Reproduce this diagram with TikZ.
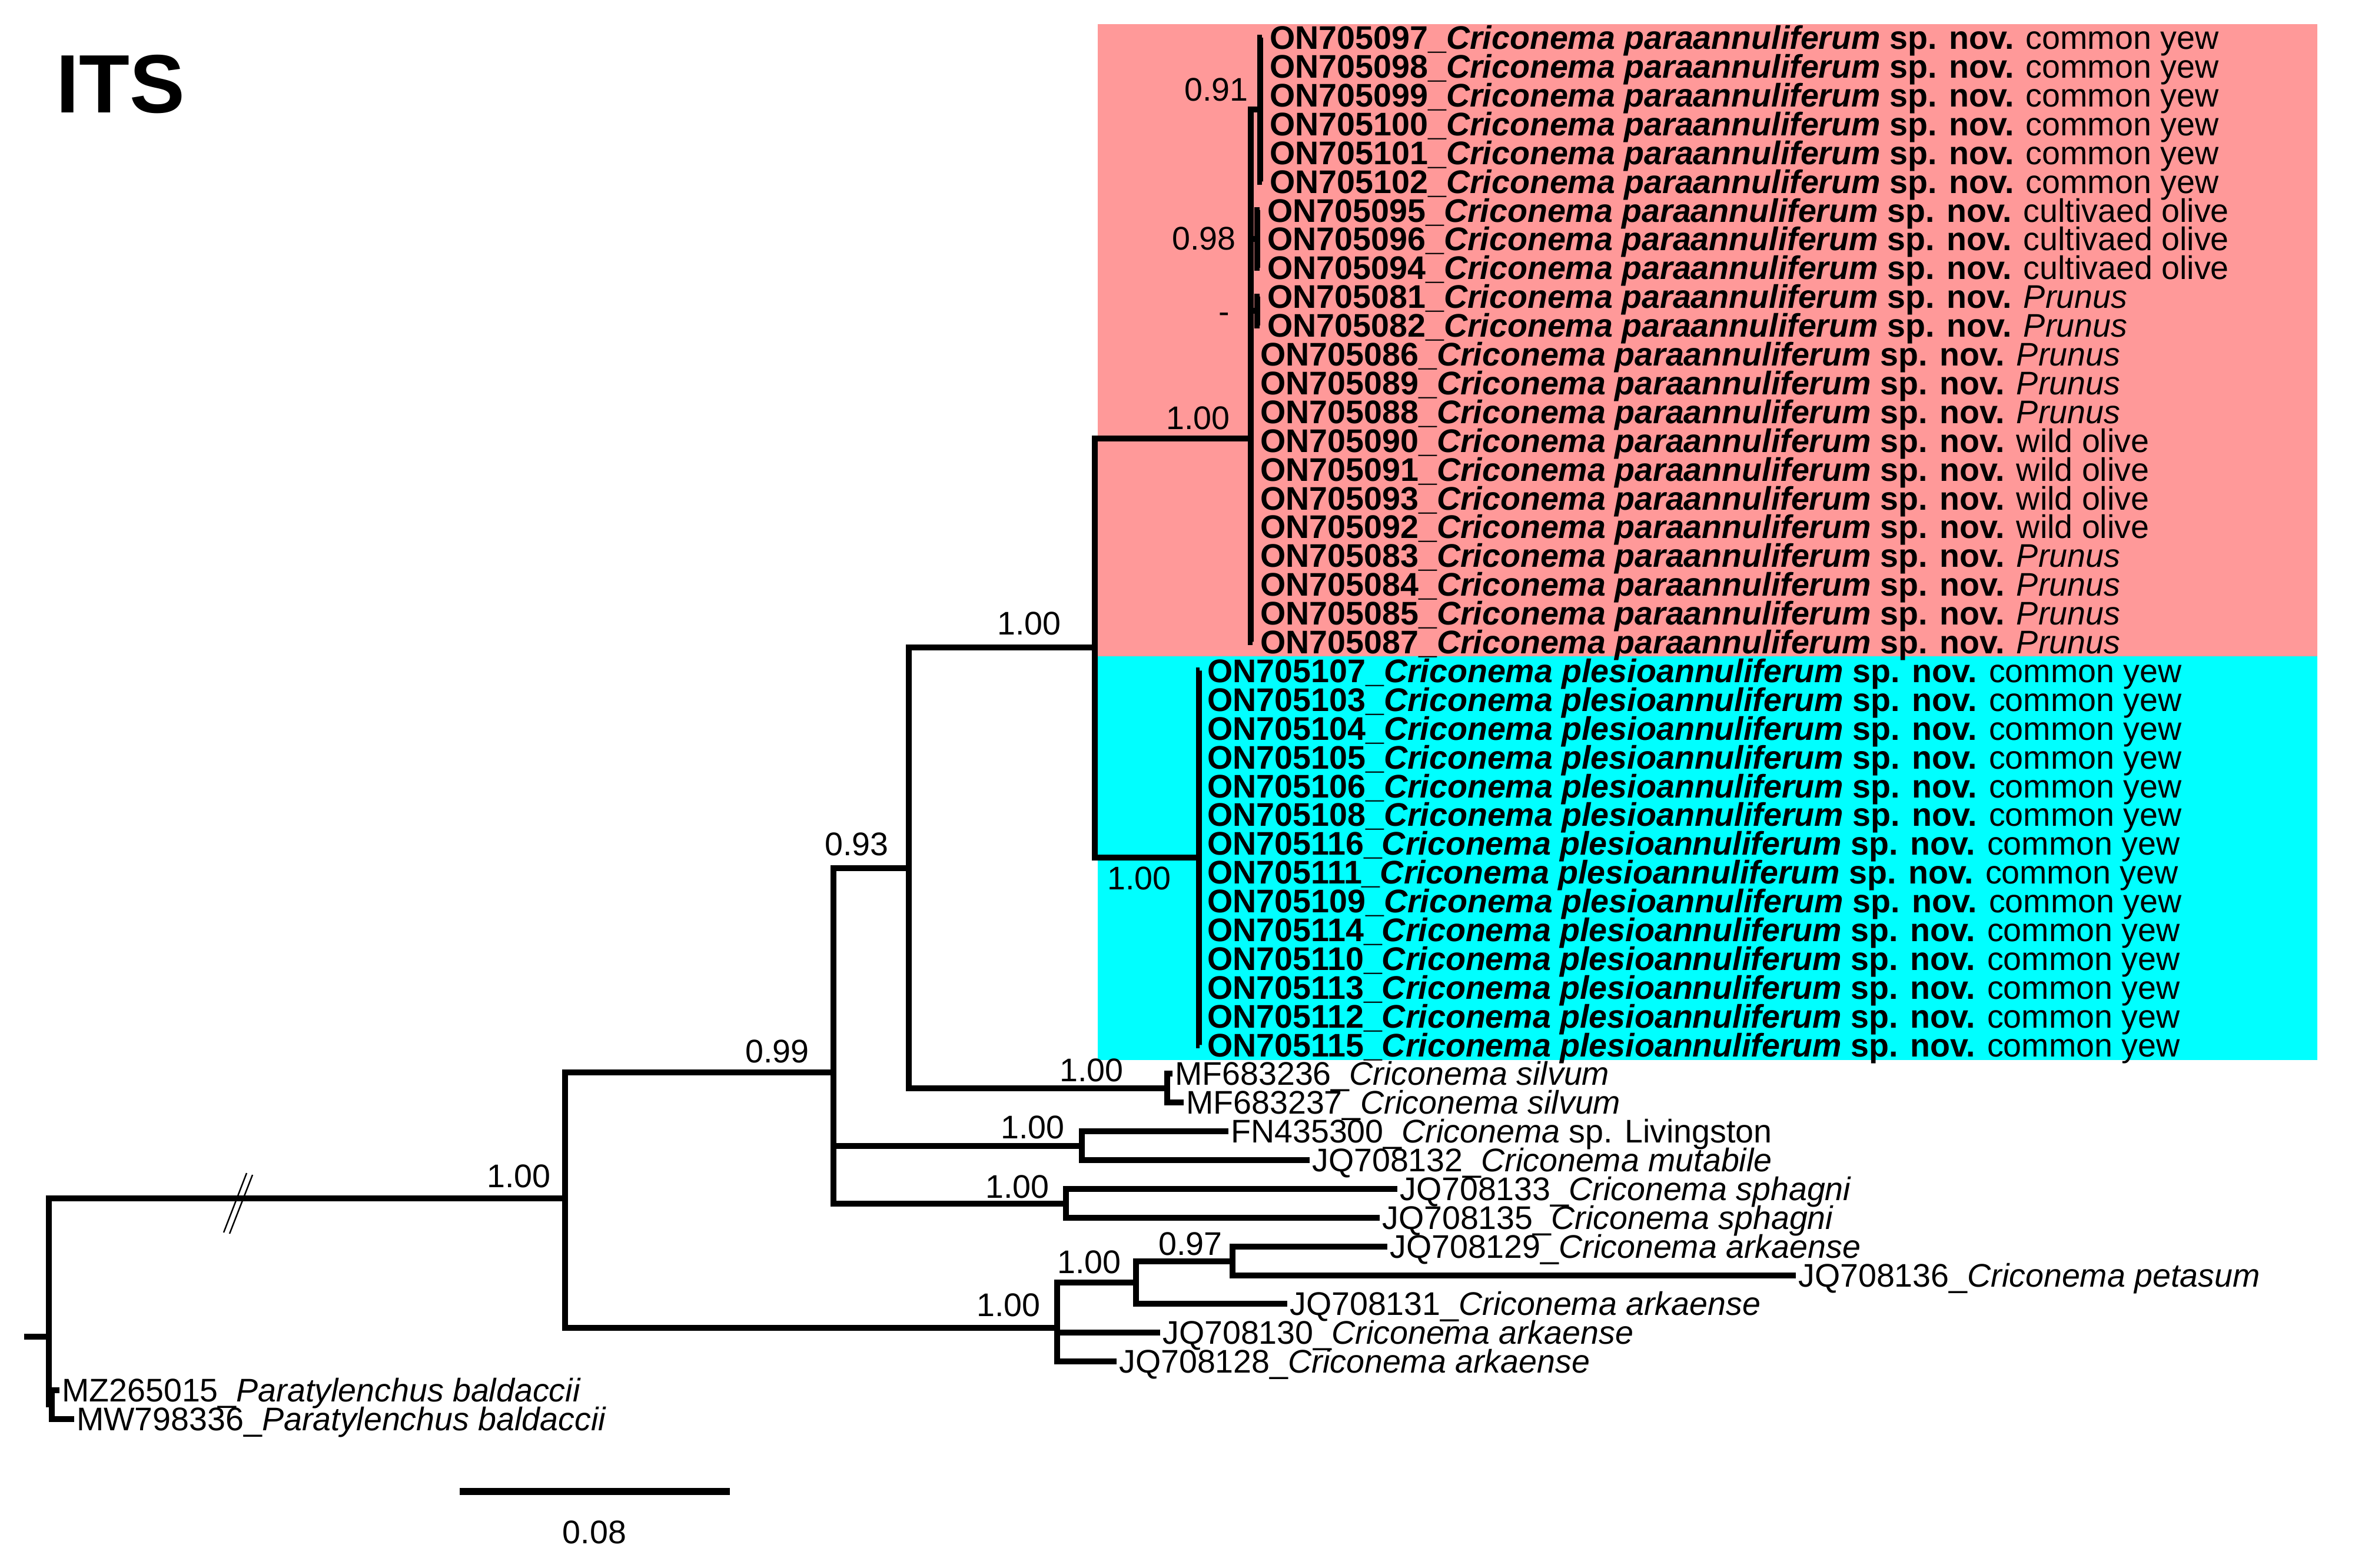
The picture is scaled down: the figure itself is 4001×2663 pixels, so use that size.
\documentclass[tikz,border=0pt]{standalone}
\usepackage{fontspec}
\setmainfont{Liberation Sans}
\usepackage{xcolor}
\usepackage{tikz}
\definecolor{cladepink}{RGB}{255,153,153}
\definecolor{cladecyan}{RGB}{0,255,255}
\newcommand{\newsp}[3]{\textbf{#1\_\textit{Criconema #2} sp. nov.} #3}
\newcommand{\prunus}{\textit{Prunus}}
\tikzset{
  branch/.style={line width=3pt},
  tip/.style={anchor=west, inner xsep=1pt, inner ysep=0pt,
    text height=11.3pt, text depth=0pt, font=\fontsize{15.8}{16}\selectfont},
  ztip/.style={tip, inner xsep=3.6pt},
  supp/.style={anchor=east, inner sep=0pt,
    text height=11.3pt, text depth=0pt, font=\fontsize{15.8}{16}\selectfont},
  clade pink/.style={fill=cladepink, draw=none},
  clade cyan/.style={fill=cladecyan, draw=none},
  breakmark/.style={line width=0.7pt}
}

\begin{document}
\begin{tikzpicture}[x=0.01cm,y=-0.01cm]
  \useasboundingbox (0,0) rectangle (4001,2663);

  % clade boxes
  \fill[clade pink] (1865,41) rectangle (3937,1115);
  \fill[clade cyan] (1865,1115) rectangle (3937,1801);

  \node[font=\fontsize{40}{40}\selectfont\bfseries, anchor=base west, inner sep=0pt] (title) at (95,191) {ITS};

  % internal nodes
  \coordinate (stub) at (41,2271);
  \coordinate (R) at (83,2271);
  \coordinate (O) at (88,2386);
  \coordinate (A) at (960,2036);
  \coordinate (B) at (1416,1822);
  \coordinate (C) at (1544,1475);
  \coordinate (D) at (1860,1100);
  \coordinate (K) at (2125,745);
  \coordinate (P1) at (2141,186);
  \coordinate (P2) at (2136,406);
  \coordinate (P3) at (2136,528);
  \coordinate (L) at (2037,1457);
  \coordinate (E) at (1983,1849);
  \coordinate (F) at (1838,1947);
  \coordinate (G) at (1811,2045);
  \coordinate (H) at (1796,2256);
  \coordinate (I) at (1930,2179);
  \coordinate (J) at (2094,2143);

  % C. paraannuliferum sp. nov.
  \foreach \acc/\host/\tx [count=\i from 0] in {
    097/common yew/2144, 098/common yew/2144, 099/common yew/2144,
    100/common yew/2144, 101/common yew/2144, 102/common yew/2144,
    095/cultivaed olive/2140, 096/cultivaed olive/2140, 094/cultivaed olive/2140,
    081/\prunus/2140, 082/\prunus/2140, 086/\prunus/2128, 089/\prunus/2128,
    088/\prunus/2128, 090/wild olive/2128, 091/wild olive/2128,
    093/wild olive/2128, 092/wild olive/2128, 083/\prunus/2128,
    084/\prunus/2128, 085/\prunus/2128, 087/\prunus/2128}
    \node[ztip] (t\acc) at (\tx,{63.8+48.9*\i}) {\newsp{ON705\acc}{paraannuliferum}{\host}};

  % C. plesioannuliferum sp. nov.
  \foreach \acc [count=\i from 22] in {107,103,104,105,106,108,116,111,109,114,110,113,112,115}
    \node[ztip] (t\acc) at (2038,{63.8+48.9*\i}) {\newsp{ON705\acc}{plesioannuliferum}{common yew}};

  \node[tip] (tMF236) at (1992,1824) {MF683236\_\textit{Criconema silvum}};
  \node[tip] (tMF237) at (2011,1873) {MF683237\_\textit{Criconema silvum}};
  \node[tip] (tFN300) at (2087,1922) {FN435300\_\textit{Criconema} sp. Livingston};
  \node[tip] (tJQ132) at (2225,1971) {JQ708132\_\textit{Criconema mutabile}};
  \node[tip] (tJQ133) at (2374,2020) {JQ708133\_\textit{Criconema sphagni}};
  \node[tip] (tJQ135) at (2344,2069) {JQ708135\_\textit{Criconema sphagni}};
  \node[tip] (tJQ129) at (2357,2118) {JQ708129\_\textit{Criconema arkaense}};
  \node[tip] (tJQ136) at (3051,2167) {JQ708136\_\textit{Criconema petasum}};
  \node[tip] (tJQ131) at (2187,2215) {JQ708131\_\textit{Criconema arkaense}};
  \node[tip] (tJQ130) at (1971,2264) {JQ708130\_\textit{Criconema arkaense}};
  \node[tip] (tJQ128) at (1897,2313) {JQ708128\_\textit{Criconema arkaense}};
  \node[tip] (tMZ015) at (101,2362) {MZ265015\_\textit{Paratylenchus baldaccii}};
  \node[tip] (tMW336) at (126,2411) {MW798336\_\textit{Paratylenchus baldaccii}};

  % branches
  \draw[branch] (stub) -- (R);
  \draw[branch] (R) |- (A);
  \draw[branch] (R) |- (O);
  \draw[branch] (O) |- (tMZ015);
  \draw[branch] (O) |- (tMW336);
  \draw[branch] (A) |- (B);
  \draw[branch] (A) |- (H);
  \draw[branch] (B) |- (C);
  \draw[branch] (B) |- (F);
  \draw[branch] (B) |- (G);
  \draw[branch] (C) |- (D);
  \draw[branch] (C) |- (E);
  \draw[branch] (D) |- (K);
  \draw[branch] (D) |- (L);
  \draw[branch] (K) |- (P1);
  \draw[branch] (K) |- (P2);
  \draw[branch] (K) |- (P3);
  \foreach \a in {097,098,099,100,101,102} \draw[branch] (P1) |- (t\a);
  \foreach \a in {095,096,094} \draw[branch] (P2) |- (t\a);
  \foreach \a in {081,082} \draw[branch] (P3) |- (t\a);
  \foreach \a in {086,089,088,090,091,093,092,083,084,085,087} \draw[branch] (K) |- (t\a);
  \foreach \a in {107,103,104,105,106,108,116,111,109,114,110,113,112,115} \draw[branch] (L) |- (t\a);
  \draw[branch] (E) |- (tMF236);
  \draw[branch] (E) |- (tMF237);
  \draw[branch] (F) |- (tFN300);
  \draw[branch] (F) |- (tJQ132);
  \draw[branch] (G) |- (tJQ133);
  \draw[branch] (G) |- (tJQ135);
  \draw[branch] (H) |- (I);
  \draw[branch] (H) |- (tJQ130);
  \draw[branch] (H) |- (tJQ128);
  \draw[branch] (I) |- (J);
  \draw[branch] (I) |- (tJQ131);
  \draw[branch] (J) |- (tJQ129);
  \draw[branch] (J) |- (tJQ136);

  % long branch cut
  \draw[breakmark] (380,2094) -- (419,1993);
  \draw[breakmark] (390,2096) -- (429,1996);

  % support values
  \node[supp] (sA) at (936,1998) {1.00};
  \node[supp] (sB) at (1375,1786) {0.99};
  \node[supp] (sC) at (1510,1434) {0.93};
  \node[supp] (sD) at (1803,1059) {1.00};
  \node[supp] (sK) at (2090,710) {1.00};
  \node[supp] (sP1) at (2121,152) {0.91};
  \node[supp] (sP2) at (2100,405) {0.98};
  \node[supp] (sP3) at (2090,529) {-};
  \node[supp] (sL) at (1990,1492) {1.00};
  \node[supp] (sE) at (1909,1818) {1.00};
  \node[supp] (sF) at (1809,1915) {1.00};
  \node[supp] (sG) at (1783,2016) {1.00};
  \node[supp] (sH) at (1768,2217) {1.00};
  \node[supp] (sI) at (1905,2144) {1.00};
  \node[supp] (sJ) at (2077,2113) {0.97};

  % scale bar
  \coordinate (sb1) at (781,2534);
  \coordinate (sb2) at (1240,2534);
  \draw[line width=3.4pt] (sb1) -- (sb2);
  \node[supp, anchor=center] (sbl) at (1010,2603) {0.08};
\end{tikzpicture}
\end{document}
